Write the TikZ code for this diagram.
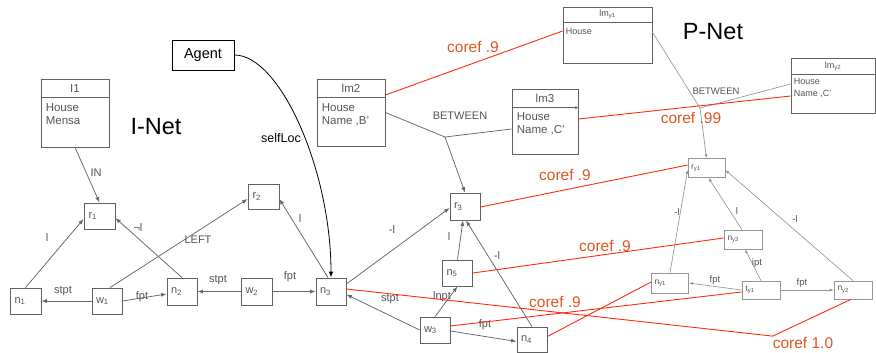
\documentclass[tikz,border=0pt]{standalone}
\usepackage{fontspec}
\setmainfont{Liberation Sans}
\usetikzlibrary{arrows.meta}
\definecolor{edgec}{HTML}{666666}
\definecolor{pedgec}{HTML}{959595}
\definecolor{boxc}{HTML}{606060}
\definecolor{lblc}{HTML}{555555}
\definecolor{corefl}{HTML}{FF2A10}
\definecolor{coreft}{HTML}{E0561E}
\tikzset{
  ibox/.style={draw=boxc, line width=0.8pt, minimum width=30pt, minimum height=26pt, inner xsep=4pt, inner ysep=0pt, text width=22pt, align=left, font=\fontsize{11}{12}\selectfont, text=lblc},
  pbox/.style={draw=pedgec, line width=0.7pt, minimum width=37pt, minimum height=19pt, inner xsep=3pt, inner ysep=0pt, text width=31pt, align=left, font=\fontsize{8.5}{10}\selectfont, text=lblc},
  rec/.style={draw=boxc, line width=0.8pt, inner sep=0pt},
  prec/.style={draw=boxc, line width=0.7pt, inner sep=0pt},
  rtxt/.style={text=lblc, font=\fontsize{11.5}{13}\selectfont, inner sep=0pt, align=left},
  ptxt/.style={text=lblc, font=\fontsize{9}{12}\selectfont, inner sep=0pt, align=left},
  e/.style={draw=edgec, line width=0.75pt},
  ea/.style={e, -{Latex[length=5.5pt,width=4pt]}},
  pe/.style={draw=pedgec, line width=0.65pt},
  pea/.style={pe, -{Latex[length=4pt,width=3pt]}},
  lbl/.style={text=lblc, font=\fontsize{11}{12}\selectfont, inner sep=0pt},
  plbl/.style={text=lblc, font=\fontsize{9.5}{11}\selectfont, inner sep=0pt},
  cr/.style={draw=corefl, line width=0.9pt},
  crt/.style={text=coreft, font=\fontsize{15.5}{17}\selectfont, inner sep=0pt},
  big/.style={font=\fontsize{23.5}{26}\selectfont, inner sep=0pt}
}
\begin{document}
\begin{tikzpicture}[x=1pt,y=-1pt]
\fill[white] (0,0) rectangle (876,353);
\useasboundingbox (0,0) rectangle (876,353);

% titles
\node[big] (inet) at (156,127) {I-Net};
\node[big] (pnet) at (713,32) {P-Net};

% ---------- I-Net record
\node[rec, minimum width=68pt, minimum height=68pt] (I1) at (75,113) {};
\draw[boxc, line width=0.8pt] ([yshift=-19pt]I1.north west) -- ([yshift=-19pt]I1.north east);
\node[rtxt] (I1h) at ([yshift=-9.5pt]I1.north) {I1};
\node[rtxt, anchor=north west] (I1b) at ([xshift=5pt,yshift=-25pt]I1.north west) {House\\Mensa};

% I-Net nodes
\node[ibox, minimum width=31pt] (r1) at (99.5,216) {r\textsubscript{1}};
\node[ibox, minimum width=31pt] (n1) at (25.5,301) {n\textsubscript{1}};
\node[ibox] (w1) at (107,301) {w\textsubscript{1}};
\node[ibox, minimum height=27pt] (n2) at (182,291.5) {n\textsubscript{2}};
\node[ibox, minimum width=31pt, minimum height=25pt] (r2) at (263.5,196.5) {r\textsubscript{2}};
\node[ibox, minimum width=31pt, minimum height=27pt] (w2) at (256.5,291.5) {w\textsubscript{2}};
\node[ibox, minimum height=27pt] (n3) at (331,291.5) {n\textsubscript{3}};
\node[ibox, minimum height=27pt] (r3) at (465,206.5) {r\textsubscript{3}};
\node[ibox] (n5) at (457.5,273) {n\textsubscript{5}};
\node[ibox] (w3) at (435,330) {w\textsubscript{3}};
\node[ibox, minimum height=25pt] (n4) at (532,339.5) {n\textsubscript{4}};

% Agent
\node[draw=black, line width=0.8pt, minimum width=62pt, minimum height=30pt, inner sep=0pt, font=\fontsize{14.5}{16}\selectfont] (agent) at (203,55) {Agent};
\draw[black, line width=0.8pt, -{Latex[length=6pt,width=4.5pt]}] (agent.east) .. controls (280,55) and (331,170) .. (n3.north)
  node[font=\fontsize{12.5}{14}\selectfont, inner sep=0pt] (lself) at (281,138) {selfLoc};

% I-Net edges
\draw[ea] (I1.south) -- (r1.north) node[lbl] (lin) at (96,173) {IN};
\draw[ea] (n1.north) -- ([yshift=-3pt]r1.west) node[lbl] (l1) at (47,238) {l};
\draw[ea] (n2.north) -- ([yshift=-2pt]r1.east) node[lbl] (l2) at (138,228) {¬l};
\draw[ea] ([xshift=3pt]w1.north) -- ([yshift=-2.5pt]r2.west) node[lbl] (l3) at (198,240) {LEFT};
\draw[ea] (w1.east) -- ([yshift=-2.5pt]n2.west) node[lbl] (l4) at (142,297) {fpt};
\draw[ea] (w1.west) -- (n1.east) node[lbl] (l5) at (63,291) {stpt};
\draw[ea] (w2.west) -- (n2.east) node[lbl] (l6) at (218,280) {stpt};
\draw[ea] (w2.east) -- (n3.west) node[lbl] (l7) at (290,277) {fpt};
\draw[ea] ([xshift=-3pt]n3.north) -- ([yshift=-2.5pt]r2.east) node[lbl] (l8) at (300,219) {l};
\draw[ea] ([yshift=7.5pt]n3.east) -- ([yshift=-1.5pt]r3.west) node[lbl] (l9) at (392,230) {-l};
\draw[ea] (w3.west) -- ([yshift=-3pt]n3.east) node[lbl] (l10) at (390,299) {stpt};
\draw[ea] (w3.north) -- (n5.south) node[lbl] (l11) at (442,297) {lnpt};
\draw[ea] ([yshift=-1pt]w3.east) -- ([yshift=-2pt]n4.west) node[lbl] (l12) at (485,325) {fpt};
\draw[ea] (n5.north) -- ([xshift=-2pt]r3.south) node[lbl] (l13) at (449,237) {l};
\draw[ea] (n4.north) -- ([xshift=1pt]r3.south) node[lbl] (l14) at (497,256) {-l};

% lm2 / lm3
\node[rec, minimum width=68pt, minimum height=67pt] (lm2) at (351,112.5) {};
\draw[boxc, line width=0.8pt] ([yshift=-19pt]lm2.north west) -- ([yshift=-19pt]lm2.north east);
\node[rtxt] (lm2h) at ([yshift=-9.5pt]lm2.north) {lm2};
\node[rtxt, anchor=north west] (lm2b) at ([xshift=5pt,yshift=-25pt]lm2.north west) {House\\Name ,B'};

\node[rec, minimum width=66pt, minimum height=65pt] (lm3) at (545,121.5) {};
\draw[boxc, line width=0.8pt, -{Latex[length=3pt,width=3pt]}] ([yshift=-19pt]lm3.north west) -- ([yshift=-19pt]lm3.north east);
\node[rtxt] (lm3h) at ([yshift=-9.5pt]lm3.north) {lm3};
\node[rtxt, anchor=north west] (lm3b) at ([xshift=5pt,yshift=-24pt]lm3.north west) {House\\Name ,C'};

\coordinate (jB) at (445,137);
\draw[e] (lm2.east) -- (jB) -- ([yshift=-7.5pt]lm3.west);
\draw[ea] (jB) -- (r3.north);
\node[lbl] (lbet) at (460,116) {BETWEEN};

% ---------- P-Net
\node[prec, minimum width=89pt, minimum height=56pt] (lmy1) at (607.5,35) {};
\draw[boxc, line width=0.7pt] ([yshift=-16pt]lmy1.north west) -- ([yshift=-16pt]lmy1.north east);
\node[ptxt] (lmy1h) at ([yshift=-8pt]lmy1.north) {lm\textsubscript{y1}};
\node[ptxt, anchor=north west] (lmy1b) at ([xshift=3pt,yshift=-21pt]lmy1.north west) {House};

\node[prec, minimum width=84pt, minimum height=55pt] (lmy2) at (833,85.5) {};
\draw[boxc, line width=0.7pt] ([yshift=-17pt]lmy2.north west) -- ([yshift=-17pt]lmy2.north east);
\node[ptxt] (lmy2h) at ([yshift=-8.5pt]lmy2.north) {lm\textsubscript{y2}};
\node[ptxt, anchor=north west] (lmy2b) at ([xshift=3pt,yshift=-20pt]lmy2.north west) {House\\Name ,C'};

\node[pbox] (ry1) at (706.5,168) {r\textsubscript{y1}};
\node[pbox, minimum width=38pt] (ny3) at (743,239.5) {n\textsubscript{y3}};
\node[pbox, minimum width=36pt, minimum height=20pt] (ny1) at (670,283) {n\textsubscript{y1}};
\node[pbox, minimum width=38pt, minimum height=18pt] (ty1) at (761,290) {t\textsubscript{y1}};
\node[pbox, minimum width=38pt, minimum height=18pt] (ny2) at (853,290) {n\textsubscript{y2}};

\coordinate (jP) at (700,108);
\draw[pe] ([yshift=3pt]lmy1.east) -- (jP) -- ([yshift=1.5pt]lmy2.west);
\draw[pea] (jP) -- (ry1.north);
\node[plbl] (pbet) at (716,91) {BETWEEN};

\draw[pea] (ny1.north) -- ([yshift=-2pt]ry1.west) node[plbl] (p1) at (677,212) {-l};
\draw[pea] ([xshift=-1pt]ny3.north) -- ([xshift=2pt]ry1.south) node[plbl] (p2) at (737,211) {l};
\draw[pea] (ny2.north) -- ([yshift=-2pt]ry1.east) node[plbl] (p3) at (795,219) {-l};
\draw[pea] (ty1.north) -- ([xshift=2pt]ny3.south) node[plbl] (p4) at (757,263) {ipt};
\draw[pea] (ty1.west) -- (ny1.east) node[plbl] (p5) at (715,280) {fpt};
\draw[pea] (ty1.east) -- (ny2.west) node[plbl] (p6) at (802,283) {fpt};

% ---------- coref
\draw[cr] ([yshift=17.5pt]lm2.east) -- ([yshift=4pt]lmy1.west);
\node[crt] (c1) at (473,47) {coref .9};
\draw[cr] ([yshift=2.5pt]lm3.east) -- ([yshift=-10.5pt]lmy2.west);
\node[crt] (c2) at (691,118) {coref .99};
\draw[cr] ([yshift=-0.5pt]r3.east) -- ([yshift=3pt]ry1.west);
\node[crt] (c3) at (565,175) {coref .9};
\draw[cr] (n5.east) -- ([yshift=1.5pt]ny3.west);
\node[crt] (c4) at (605,246) {coref .9};
\draw[cr] ([yshift=4pt]w3.east) -- ([yshift=-2pt]ty1.west);
\node[crt] (c5) at (555,302) {coref .9};
\draw[cr] ([yshift=3pt]n4.east) -- ([yshift=1pt]ny1.west);
\node[crt] (c10) at (803,343) {coref 1.0};
\draw[cr] ([yshift=2.5pt]n3.east) -- ([yshift=1pt]c10.north west) -- ([xshift=-2pt]ny2.south);
\end{tikzpicture}
\end{document}
